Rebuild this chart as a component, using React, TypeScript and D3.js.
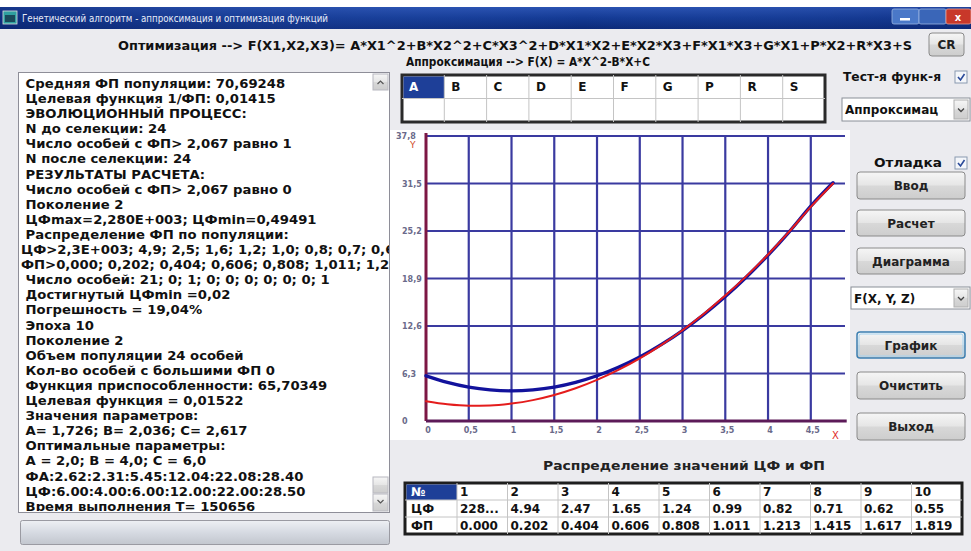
import React, { useEffect, useRef } from "react";
import * as d3 from "d3";

// chart data
const xs = [0, 0.25, 0.5, 0.75, 1, 1.25, 1.5, 1.75, 2, 2.25, 2.5, 2.75, 3, 3.25, 3.5, 3.75, 4, 4.25, 4.5, 4.76];
const targetFn = [6.0, 5.13, 4.5, 4.13, 4.0, 4.13, 4.5, 5.13, 6.0, 7.13, 8.5, 10.13, 12.0, 14.13, 16.5, 19.13, 22.0, 25.13, 28.5, 31.6];
const approxFn = [2.62, 2.22, 2.03, 2.06, 2.31, 2.77, 3.45, 4.34, 5.45, 6.77, 8.31, 10.07, 12.04, 14.23, 16.63, 19.25, 22.08, 25.14, 28.4, 31.5];
const yTicks = [0, 6.3, 12.6, 18.9, 25.2, 31.5, 37.8];
const xTicks = [0, 0.5, 1, 1.5, 2, 2.5, 3, 3.5, 4, 4.5];

const paramNames = ["A", "B", "C", "D", "E", "F", "G", "P", "R", "S"];
const tableCols = ["1", "2", "3", "4", "5", "6", "7", "8", "9", "10"];
const cfValues = ["228...", "4.94", "2.47", "1.65", "1.24", "0.99", "0.82", "0.71", "0.62", "0.55"];
const fpValues = ["0.000", "0.202", "0.404", "0.606", "0.808", "1.011", "1.213", "1.415", "1.617", "1.819"];

const logLines = [
  " Средняя ФП популяции: 70,69248",
  " Целевая функция 1/ФП: 0,01415",
  " ЭВОЛЮЦИОННЫЙ ПРОЦЕСС:",
  " N до селекции: 24",
  " Число особей с ФП> 2,067 равно 1",
  " N после селекции: 24",
  " РЕЗУЛЬТАТЫ РАСЧЕТА:",
  " Число особей с ФП> 2,067 равно 0",
  " Поколение 2",
  " ЦФmax=2,280E+003; ЦФmin=0,49491",
  " Распределение ФП по популяции:",
  "ЦФ>2,3E+003; 4,9; 2,5; 1,6; 1,2; 1,0; 0,8; 0,7; 0,6;",
  "ФП>0,000; 0,202; 0,404; 0,606; 0,808; 1,011; 1,213",
  " Число особей: 21; 0; 1; 0; 0; 0; 0; 0; 0; 1",
  " Достигнутый ЦФmin =0,02",
  " Погрешность = 19,04%",
  " Эпоха 10",
  " Поколение 2",
  " Объем популяции 24 особей",
  " Кол-во особей с большими ФП 0",
  " Функция приспособленности: 65,70349",
  " Целевая функция = 0,01522",
  " Значения параметров:",
  " A= 1,726; B= 2,036; C= 2,617",
  " Оптимальные параметры:",
  " A = 2,0; B = 4,0; C = 6,0",
  " ФА:2.62:2.31:5.45:12.04:22.08:28.40",
  " ЦФ:6.00:4.00:6.00:12.00:22.00:28.50",
  " Время выполнения T= 150656",
];

const FONT = "DejaVu Sans, sans-serif";

const Button = ({ x, y, w, h, label, focus }: any) => (
  <g>
    <rect x={x} y={y} width={w} height={h} rx={3} fill="url(#btnGrad)" stroke={focus ? "#3c7fb1" : "#8a8a8a"} strokeWidth={focus ? 1.5 : 1} />
    {focus && <rect x={x + 2} y={y + 2} width={w - 4} height={h - 4} rx={2} fill="none" stroke="#a8d4f0" strokeWidth={1} />}
    <text x={x + w / 2} y={y + h / 2 + 4.5} textAnchor="middle" fontFamily={FONT} fontWeight="bold" fontSize={12} fill="#222">{label}</text>
  </g>
);

const Combo = ({ x, y, w, h, label }: any) => (
  <g>
    <rect x={x} y={y} width={w} height={h} fill="#fff" stroke="#8a8f98" />
    <text x={x + 3} y={y + h / 2 + 4.5} fontFamily={FONT} fontWeight="bold" fontSize={12} fill="#111">{label}</text>
    <rect x={x + w - 16} y={y + 2} width={14} height={h - 4} fill="url(#btnGrad)" stroke="#b0b0b0" />
    <path d={`M${x + w - 12},${y + h / 2 - 1} l3,3 l3,-3`} fill="none" stroke="#444" strokeWidth={1.3} />
  </g>
);

const CheckBox = ({ x, y }: any) => (
  <g>
    <rect x={x} y={y} width={12} height={12} fill="#f4f6fa" stroke="#8a9ab0" />
    <path d={`M${x + 3},${y + 6} l2.5,3 l4,-6`} fill="none" stroke="#2a4a9a" strokeWidth={1.6} />
  </g>
);

const Chart = () => {
  const ref = useRef<SVGGElement>(null);

  useEffect(() => {
    const g = d3.select(ref.current);
    g.selectAll("*").remove();

    const x = d3.scaleLinear().domain([0, 4.9]).range([426, 845]);
    const y = d3.scaleLinear().domain([0, 37.8]).range([421, 136]);

    // grid
    g.selectAll(".vgrid")
      .data(xTicks.slice(1))
      .enter()
      .append("line")
      .attr("x1", d => x(d)).attr("x2", d => x(d))
      .attr("y1", y(37.8)).attr("y2", y(0))
      .attr("stroke", "#3a3aa0")
      .attr("stroke-width", 2.2);

    g.selectAll(".hgrid")
      .data(yTicks.slice(1))
      .enter()
      .append("line")
      .attr("x1", x(0)).attr("x2", x(4.9))
      .attr("y1", d => y(d)).attr("y2", d => y(d))
      .attr("stroke", "#3a3aa0")
      .attr("stroke-width", 2.2);

    // axes
    g.append("line")
      .attr("x1", x(0)).attr("x2", x(0))
      .attr("y1", y(37.8) - 3).attr("y2", y(0))
      .attr("stroke", "#7c1744").attr("stroke-width", 3);
    g.append("line")
      .attr("x1", x(0)).attr("x2", x(4.92))
      .attr("y1", y(0)).attr("y2", y(0))
      .attr("stroke", "#5c1a58").attr("stroke-width", 3);

    const fmt = (v: number) => String(v).replace(".", ",");

    g.selectAll(".ylab")
      .data(yTicks)
      .enter()
      .append("text")
      .attr("x", d => (d === 37.8 ? 396 : 402))
      .attr("y", d => y(d) + 3)
      .attr("font-family", FONT)
      .attr("font-size", 8)
      .attr("font-weight", "bold")
      .attr("fill", "#6a6a8a")
      .text(d => fmt(d));

    g.selectAll(".xlab")
      .data(xTicks)
      .enter()
      .append("text")
      .attr("x", d => x(d) + 2)
      .attr("y", 433)
      .attr("text-anchor", "middle")
      .attr("font-family", FONT)
      .attr("font-size", 8)
      .attr("font-weight", "bold")
      .attr("fill", "#6a6a8a")
      .text(d => fmt(d));

    g.append("text").attr("x", 410).attr("y", 148)
      .attr("font-family", FONT).attr("font-size", 9).attr("fill", "#d04a2a").text("Y");
    g.append("text").attr("x", 832).attr("y", 439)
      .attr("font-family", FONT).attr("font-size", 10).attr("fill", "#e02a2a").text("X");

    const lineOf = (vals: number[]) =>
      d3.line<number>()
        .x((_, i) => x(xs[i]))
        .y(d => y(d))
        .curve(d3.curveMonotoneX)(vals);

    g.append("path")
      .attr("d", lineOf(targetFn))
      .attr("fill", "none")
      .attr("stroke", "#12129c")
      .attr("stroke-width", 3.4)
      .attr("stroke-linecap", "round");

    g.append("path")
      .attr("d", lineOf(approxFn))
      .attr("fill", "none")
      .attr("stroke", "#e41c1c")
      .attr("stroke-width", 2)
      .attr("stroke-linecap", "round");
  }, []);

  return <g ref={ref} />;
};

const App = () => {
  const gridX0 = 402, gridY0 = 75, colW = 42.3, rowH = 23.5;
  const tX0 = 405, tY0 = 483, tFirst = 52, tColW = 50.5, tRowH = 17;

  return (
    <svg width={971} height={551} style={{ position: "absolute", left: 0, top: 0, display: "block" }}>
      <defs>
        <linearGradient id="titleGrad" x1="0" y1="0" x2="0" y2="1">
          <stop offset="0%" stopColor="#2a52b0" />
          <stop offset="50%" stopColor="#143a94" />
          <stop offset="100%" stopColor="#0c2a78" />
        </linearGradient>
        <linearGradient id="titleGradH" x1="0" y1="0" x2="1" y2="0">
          <stop offset="0%" stopColor="#0a2470" stopOpacity={0.6} />
          <stop offset="60%" stopColor="#3a6ad0" stopOpacity={0} />
          <stop offset="100%" stopColor="#0a2470" stopOpacity={0.3} />
        </linearGradient>
        <linearGradient id="btnGrad" x1="0" y1="0" x2="0" y2="1">
          <stop offset="0%" stopColor="#f6f6f6" />
          <stop offset="48%" stopColor="#e6e6e6" />
          <stop offset="52%" stopColor="#d8d8d8" />
          <stop offset="100%" stopColor="#cdcdcd" />
        </linearGradient>
        <linearGradient id="progGrad" x1="0" y1="0" x2="0" y2="1">
          <stop offset="0%" stopColor="#eef0f4" />
          <stop offset="50%" stopColor="#d6dae2" />
          <stop offset="100%" stopColor="#c2c6ce" />
        </linearGradient>
        <clipPath id="logClip">
          <rect x={19} y={73} width={370} height={438} />
        </clipPath>
      </defs>

      {/* window chrome */}
      <rect x={0} y={0} width={971} height={551} fill="#ebebef" />
      <rect x={0} y={0} width={971} height={7} fill="#ffffff" />
      <rect x={0} y={7} width={971} height={22} fill="url(#titleGrad)" />
      <rect x={0} y={7} width={971} height={22} fill="url(#titleGradH)" />
      <rect x={3} y={11} width={14} height={13} fill="#2fa0a0" stroke="#ddd" strokeWidth={0.8} />
      <rect x={5} y={15} width={10} height={7} fill="#1a4a5a" />
      <text x={22} y={22} fontFamily={FONT} fontSize={10.5} fill="#e8ecf8" textLength={306} lengthAdjust="spacingAndGlyphs">
        Генетический алгоритм - аппроксимация и оптимизация функций
      </text>
      <rect x={892} y={9} width={27} height={15} rx={2} fill="#4a78c8" stroke="#9ab4e0" strokeWidth={0.8} />
      <rect x={900} y={18} width={10} height={2.5} fill="#fff" />
      <rect x={919} y={9} width={27} height={15} rx={2} fill="#3a66b8" stroke="#9ab4e0" strokeWidth={0.8} />
      <rect x={946} y={9} width={25} height={15} rx={2} fill="#c8382a" stroke="#e8a090" strokeWidth={0.8} />
      <text x={958} y={21} textAnchor="middle" fontFamily={FONT} fontSize={10} fontWeight="bold" fill="#fff">x</text>

      {/* headline formulas */}
      <text x={118} y={50} fontFamily={FONT} fontWeight="bold" fontSize={12.5} fill="#111" textLength={794} lengthAdjust="spacingAndGlyphs">
        Оптимизация --&gt; F(X1,X2,X3)= A*X1^2+B*X2^2+C*X3^2+D*X1*X2+E*X2*X3+F*X1*X3+G*X1+P*X2+R*X3+S
      </text>
      <text x={406} y={66} fontFamily={FONT} fontWeight="bold" fontSize={12.5} fill="#111" textLength={244} lengthAdjust="spacingAndGlyphs">
        Аппроксимация --&gt; F(X) = A*X^2-B*X+C
      </text>
      <Button x={929} y={33} w={35} h={23} label="CR" />

      {/* log panel */}
      <rect x={18.5} y={72.5} width={371} height={440} fill="#fff" stroke="#8e8e98" />
      <g clipPath="url(#logClip)">
        <g transform="translate(21,0) scale(1.1,1) translate(-21,0)">
          {logLines.map((l, i) => (
            <text key={i} x={21} y={88 + i * 15.1} fontFamily={FONT} fontWeight="bold" fontSize={12} fill="#111" style={{ whiteSpace: "pre" }}>
              {l}
            </text>
          ))}
        </g>
      </g>
      <rect x={373} y={74} width={15} height={16} fill="url(#btnGrad)" stroke="#b8b8c0" />
      <path d="M377.5,84 l3,-3 l3,3" fill="none" stroke="#555" strokeWidth={1.2} />
      <rect x={373} y={477} width={15} height={16} fill="url(#btnGrad)" stroke="#b8b8c0" />
      <rect x={373} y={494} width={15} height={17} fill="url(#btnGrad)" stroke="#b8b8c0" />
      <path d="M377.5,500 l3,3 l3,-3" fill="none" stroke="#555" strokeWidth={1.2} />

      {/* progress bar */}
      <rect x={20.5} y={520.5} width={369} height={24} rx={2} fill="url(#progGrad)" stroke="#9a9aa2" />

      {/* parameter grid */}
      <rect x={gridX0} y={gridY0} width={colW * 10} height={rowH * 2} fill="#fff" stroke="#2a2a2a" strokeWidth={3} />
      <rect x={gridX0 + 1.5} y={gridY0 + 1.5} width={colW - 1.5} height={rowH - 1.5} fill="#1e3f98" />
      {paramNames.map((p, i) => (
        <g key={p}>
          {i > 0 && <line x1={gridX0 + i * colW} x2={gridX0 + i * colW} y1={gridY0} y2={gridY0 + rowH * 2} stroke="#c4c4c4" />}
          <text x={gridX0 + i * colW + 7} y={gridY0 + 16} fontFamily={FONT} fontWeight="bold" fontSize={12} fill={i === 0 ? "#fff" : "#111"}>{p}</text>
        </g>
      ))}
      <line x1={gridX0} x2={gridX0 + colW * 10} y1={gridY0 + rowH} y2={gridY0 + rowH} stroke="#c4c4c4" />

      {/* chart panel */}
      <rect x={390} y={130} width={460} height={310} fill="#fff" />
      <Chart />

      {/* right controls */}
      <text x={843} y={81} fontFamily={FONT} fontWeight="bold" fontSize={12} fill="#111" textLength={98} lengthAdjust="spacingAndGlyphs">Тест-я функ-я</text>
      <CheckBox x={955} y={71} />
      <Combo x={842} y={98} w={128} h={23} label="Аппроксимац" />
      <text x={874} y={167} fontFamily={FONT} fontWeight="bold" fontSize={12} fill="#111" textLength={68} lengthAdjust="spacingAndGlyphs">Отладка</text>
      <CheckBox x={955} y={157} />
      <Button x={857} y={172} w={108} h={27} label="Ввод" />
      <Button x={857} y={210} w={108} h={26} label="Расчет" />
      <Button x={857} y={248} w={108} h={26} label="Диаграмма" />
      <Combo x={851} y={287} w={119} h={22} label="F(X, Y, Z)" />
      <Button x={857} y={332} w={108} h={26} label="График" focus />
      <Button x={857} y={372} w={108} h={27} label="Очистить" />
      <Button x={857} y={413} w={108} h={27} label="Выход" />

      {/* distribution table */}
      <text x={684} y={470} textAnchor="middle" fontFamily={FONT} fontWeight="bold" fontSize={12.5} fill="#222" textLength={282} lengthAdjust="spacingAndGlyphs">
        Распределение значений ЦФ и ФП
      </text>
      <rect x={tX0} y={tY0} width={tFirst + tColW * 10} height={tRowH * 3} fill="#fff" stroke="#1e1e1e" strokeWidth={3} />
      <rect x={tX0 + 1.5} y={tY0 + 1.5} width={tFirst - 1.5} height={tRowH - 1.5} fill="#1e3f98" />
      {[1, 2].map(r => (
        <line key={r} x1={tX0} x2={tX0 + tFirst + tColW * 10} y1={tY0 + r * tRowH} y2={tY0 + r * tRowH} stroke="#c4c4c4" />
      ))}
      {["№", "ЦФ", "ФП"].map((l, r) => (
        <text key={l} x={tX0 + 6} y={tY0 + r * tRowH + 13} fontFamily={FONT} fontWeight="bold" fontSize={12} fill={r === 0 ? "#fff" : "#111"}>{l}</text>
      ))}
      {tableCols.map((c, i) => {
        const cx = tX0 + tFirst + i * tColW;
        return (
          <g key={c}>
            <line x1={cx} x2={cx} y1={tY0} y2={tY0 + tRowH * 3} stroke="#c4c4c4" />
            <text x={cx + 3} y={tY0 + 13} fontFamily={FONT} fontWeight="bold" fontSize={12} fill="#111">{c}</text>
            <text x={cx + 3} y={tY0 + tRowH + 13} fontFamily={FONT} fontWeight="bold" fontSize={12} fill="#111">{cfValues[i]}</text>
            <text x={cx + 3} y={tY0 + 2 * tRowH + 13} fontFamily={FONT} fontWeight="bold" fontSize={12} fill="#111">{fpValues[i]}</text>
          </g>
        );
      })}
    </svg>
  );
};

export default App;
